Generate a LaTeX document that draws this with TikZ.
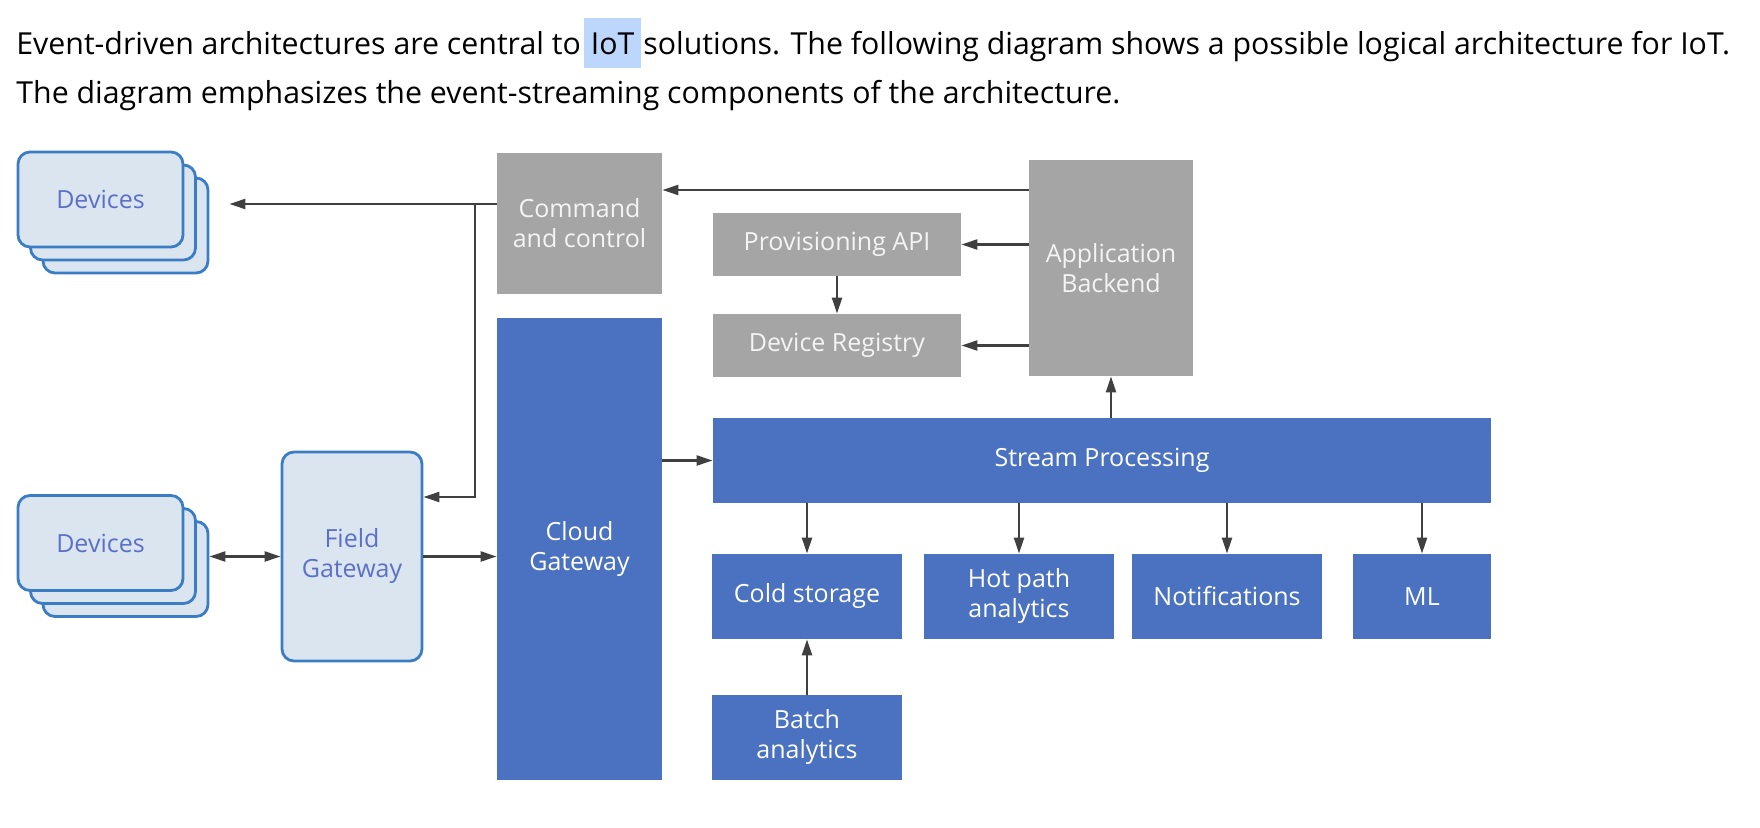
\documentclass[tikz,border=0pt]{standalone}
\usepackage{fontspec}
\setmainfont{Open Sans}
\usepackage{tikz}
\usetikzlibrary{arrows.meta, positioning, calc}
\definecolor{azBlue}{HTML}{4A72C0}
\definecolor{azGrey}{HTML}{A5A5A5}
\definecolor{greyText}{HTML}{F4F4F4}
\definecolor{devFill}{HTML}{DAE5EF}
\definecolor{devBorder}{HTML}{3B7DC4}
\definecolor{devText}{HTML}{5C70C8}
\definecolor{lineGrey}{HTML}{404040}
\definecolor{selBlue}{HTML}{BCD7FB}
\newcommand{\selword}[1]{\kern1.5pt{\setlength{\fboxsep}{0pt}\colorbox{selBlue}{\rule[-6.5pt]{0pt}{25pt}\kern3.5pt #1\kern3.5pt}}\kern1pt}

\begin{document}
\begin{tikzpicture}[x=0.5pt, y=-0.5pt,
    every node/.style={font=\fontsize{12.5}{15}\selectfont, align=center, inner sep=0pt},
    bluebox/.style={fill=azBlue, text=white},
    greybox/.style={fill=azGrey, text=greyText},
    devcard/.style={draw=devBorder, fill=devFill, line width=1.4pt, rounded corners=6pt,
      minimum width=82.5pt, minimum height=47.5pt, text=devText},
    arr/.style={draw=lineGrey, line width=1.1pt, -{Triangle[length=8pt, width=5pt]}},
    darr/.style={draw=lineGrey, line width=1.1pt, {Triangle[length=8pt, width=5pt]}-{Triangle[length=8pt, width=5pt]}}]
    \fill[white] (0,0) rectangle (1760,828);
    \useasboundingbox (0,0) rectangle (1760,828);

    % intro text
    \node[anchor=base west, font=\fontsize{15.15}{18}\selectfont] (intro1) at (16,55)
      {Event-driven architectures are central to\selword{IoT}solutions. The following diagram shows a possible logical architecture for IoT.};
    \node[anchor=base west, font=\fontsize{15.15}{18}\selectfont] (intro2) at (16,104)
      {The diagram emphasizes the event-streaming components of the architecture.};

    % devices (two stacks of cards)
    \node[devcard] (devAc) at (125.5,225.5) {};
    \node[devcard] (devAb) at (113,212.5) {};
    \node[devcard] (devA) at (100.5,199.5) {Devices};
    \node[devcard] (devBc) at (125.5,569) {};
    \node[devcard] (devBb) at (113,556) {};
    \node[devcard] (devB) at (100.5,543) {Devices};

    \node[devcard, minimum width=70pt, minimum height=104.5pt] (field) at (352,556.5) {Field\\Gateway};

    % cloud side
    \node[greybox, minimum width=82.5pt, minimum height=70.5pt] (cmd) at (579.5,223.5) {Command\\and control};
    \node[bluebox, minimum width=82.5pt, minimum height=231pt] (cloud) at (579.5,549) {Cloud\\Gateway};
    \node[greybox, minimum width=124pt, minimum height=31.5pt] (prov) at (837,244.5) {Provisioning API};
    \node[greybox, minimum width=124pt, minimum height=31.5pt] (reg) at (837,345.5) {Device Registry};
    \node[greybox, minimum width=82pt, minimum height=108pt] (app) at (1111,268) {Application\\Backend};
    \node[bluebox, minimum width=389pt, minimum height=42.5pt] (stream) at (1102,460.5) {Stream Processing};

    \node[bluebox, minimum width=95pt, minimum height=42.5pt] (cold) at (807,596.5) {Cold storage};
    \node[bluebox, minimum width=95pt, minimum height=42.5pt] (hot) at (1019,596.5) {Hot path\\analytics};
    \node[bluebox, minimum width=95pt, minimum height=42.5pt] (notif) at (1227,596.5) {Notifications};
    \node[bluebox, minimum width=69pt, minimum height=42.5pt] (ml) at (1422,596.5) {ML};
    \node[bluebox, minimum width=95pt, minimum height=42.5pt] (batch) at (807,737.5) {Batch\\analytics};

    % connectors
    \coordinate (jct) at (475,204);
    \draw[arr] (app.west |- 0,190) -- (cmd.east |- 0,190);
    \draw[arr] (cmd.west |- jct) -- ([xshift=10pt]devAc.east |- jct);
    \draw[arr] (jct) -- (jct |- 0,497) -- (field.east |- 0,497);
    \draw[darr] (field.west -| devBc.east) -- (field.west);
    \draw[arr] (field.east) -- (field.east -| cloud.west);
    \draw[arr] (stream.west -| cloud.east) -- (stream.west);
    \draw[arr] (stream.north -| app.south) -- (app.south);
    \draw[arr] (app.west |- prov.east) -- (prov.east);
    \draw[arr] (app.west |- reg.east) -- (reg.east);
    \draw[arr] (prov.south) -- (reg.north);
    \foreach \n in {cold,hot,notif,ml}
      \draw[arr] (stream.south -| \n.north) -- (\n.north);
    \draw[arr] (batch.north) -- (cold.south);
\end{tikzpicture}
\end{document}
